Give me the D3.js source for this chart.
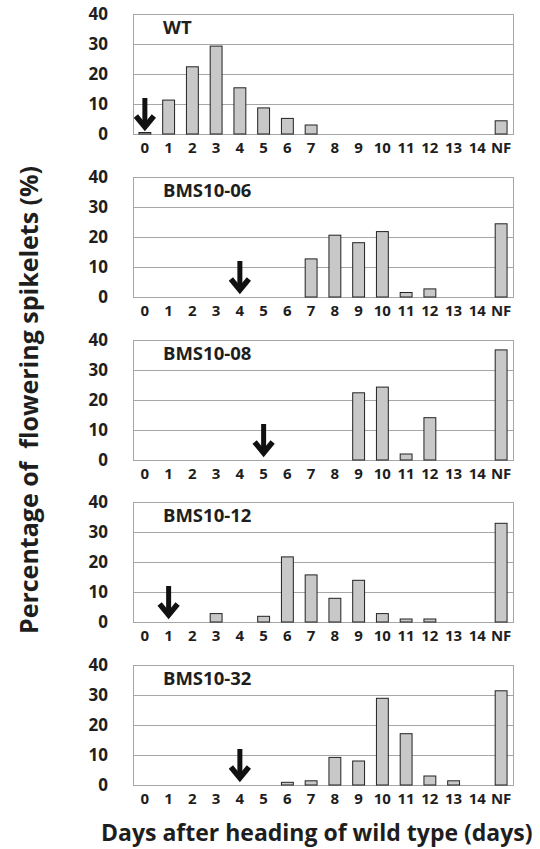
<!DOCTYPE html>
<html>
<head>
<meta charset="utf-8">
<title>Flowering spikelets</title>
<script src="https://d3js.org/d3.v7.min.js"></script>
<style>
	body { margin: 0; background: #fff; }
	text { font-family: "Open Sans", Lato, sans-serif; font-weight: 700; fill: #1e1e1e; }
	.grid line { stroke: #a6a6a6; stroke-width: 1px; }
	.frame { fill: none; stroke: #a6a6a6; stroke-width: 1px; }
	.bar { fill: #c8c8c8; stroke: #222; stroke-width: 1px; }
</style>
</head>
<body>
<div id="viz"></div>
<script>
// categories along x (days after heading of wild type, NF = not flowered)
var days = ["0","1","2","3","4","5","6","7","8","9","10","11","12","13","14","NF"];
var yTicks = [0, 10, 20, 30, 40];

// panel names and the day where the arrow points
var lines = ["WT", "BMS10-06", "BMS10-08", "BMS10-12", "BMS10-32"];
var arrowDay = ["0", "4", "5", "1", "4"];

// percentages per day
var wt       = [0.5, 11.3, 22.4, 29.3, 15.4, 8.7, 5.2, 3.0, 0, 0, 0, 0, 0, 0, 0, 4.4];
var bms1006  = [0, 0, 0, 0, 0, 0, 0, 12.7, 20.6, 18.1, 21.8, 1.5, 2.7, 0, 0, 24.4];
var bms1008  = [0, 0, 0, 0, 0, 0, 0, 0, 0, 22.4, 24.3, 2.0, 14.1, 0, 0, 36.7];
var bms1012  = [0, 0, 0, 2.8, 0, 1.9, 21.7, 15.7, 7.9, 13.9, 2.8, 1.0, 1.0, 0, 0, 32.9];
var bms1032  = [0, 0, 0, 0, 0, 0, 0.9, 1.4, 9.2, 8.0, 28.9, 17.1, 3.0, 1.4, 0, 31.4];
var series = [wt, bms1006, bms1008, bms1012, bms1032];

var width = 540, height = 849;
var left = 133, right = 513;
var panelTop = 14, panelStep = 162.8, plotH = 120;

var svg = d3.select("#viz").append("svg")
	.attr("width", width)
	.attr("height", height);

var x = d3.scaleBand().domain(days).range([left, right]).paddingInner(0.5).paddingOuter(0.25);
var y = d3.scaleLinear().domain([0, 40]).range([plotH, 0]);

lines.forEach(function(name, i) {
	var g = svg.append("g")
		.attr("transform", "translate(0," + Math.round(panelTop + i * panelStep) + ")");

	// gridlines
	g.append("g").attr("class", "grid")
		.selectAll("line").data(yTicks).enter().append("line")
		.attr("x1", left).attr("x2", right)
		.attr("y1", function(d) { return y(d) + 0.5; })
		.attr("y2", function(d) { return y(d) + 0.5; });

	g.append("rect").attr("class", "frame")
		.attr("x", left + 0.5).attr("y", 0.5)
		.attr("width", right - left).attr("height", plotH);

	// y tick labels
	g.selectAll(".ytick").data(yTicks).enter().append("text")
		.attr("class", "ytick")
		.attr("x", 108)
		.attr("y", function(d) { return y(d); })
		.attr("dy", "0.36em")
		.attr("text-anchor", "end")
		.style("font-size", "17px")
		.text(function(d) { return d; });

	// x tick labels
	g.selectAll(".xtick").data(days).enter().append("text")
		.attr("class", "xtick")
		.attr("x", function(d) { return x(d) + x.bandwidth() / 2; })
		.attr("y", plotH + 14)
		.attr("dy", "0.36em")
		.attr("text-anchor", "middle")
		.style("font-size", "15px")
		.text(function(d) { return d; });

	// bars
	g.selectAll(".bar").data(series[i].map(function(v, j) { return {day: days[j], v: v}; })
			.filter(function(d) { return d.v > 0; }))
		.enter().append("rect")
		.attr("class", "bar")
		.attr("x", function(d) { return x(d.day); })
		.attr("y", function(d) { return y(d.v); })
		.attr("width", x.bandwidth())
		.attr("height", function(d) { return y(0) - y(d.v); });

	// panel name
	g.append("text")
		.attr("x", 163)
		.attr("y", y(35.5))
		.attr("dy", "0.36em")
		.style("font-size", "18.5px")
		.text(name);

	// arrow marking heading of this line
	var ax = x(arrowDay[i]) + x.bandwidth() / 2;
	var top = y(0) - 36, tip = y(0) - 6;
	g.append("path")
		.attr("d", "M" + ax + "," + top + "V" + (tip - 4))
		.attr("stroke", "#111").attr("stroke-width", 5).attr("fill", "none");
	g.append("path")
		.attr("d", "M" + (ax - 9) + "," + (tip - 12) + "L" + ax + "," + (tip - 1) + "L" + (ax + 9) + "," + (tip - 12))
		.attr("stroke", "#111").attr("stroke-width", 5.5).attr("fill", "none")
		.attr("stroke-linejoin", "miter");
});

// axis titles
svg.append("text")
	.attr("transform", "translate(38,400) rotate(-90)")
	.attr("text-anchor", "middle")
	.style("font-size", "25px")
	.style("white-space", "pre")
	.text("Percentage of  flowering spikelets (%)");

svg.append("text")
	.attr("x", 101)
	.attr("y", 841)
	.style("font-size", "23px")
	.text("Days after heading of wild type (days)");
</script>
</body>
</html>
